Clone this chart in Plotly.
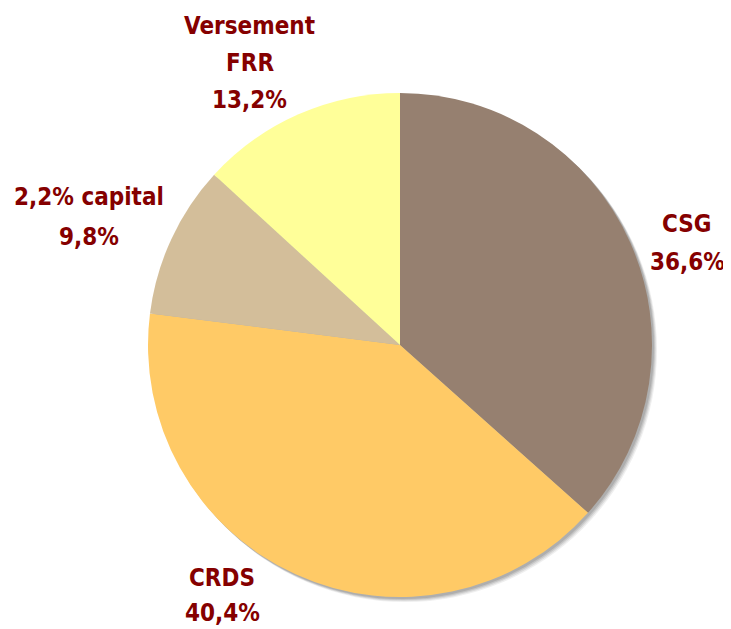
import plotly.graph_objects as go

labels = ["CSG", "CRDS", "2,2% capital", "Versement FRR"]
values = [36.6, 40.4, 9.8, 13.2]
colors = ["#968070", "#FFCA66", "#D3BE9A", "#FFFF99"]
label_lines = [["CSG"], ["CRDS"], ["2,2% capital"], ["Versement", "FRR"]]
pct_text = [f"{v:.1f}%".replace(".", ",") for v in values]

OFF = 8  # page body margin
W, H = 731 - OFF, 629 - OFF
cx, cy, r = 400 - OFF, 345 - OFF, 252


def dom(x0, y0, rad):
    return dict(x=[(x0 - rad) / W, (x0 + rad) / W], y=[(H - y0 - rad) / H, (H - y0 + rad) / H])


fig = go.Figure()
# soft drop shadow (decorative)
for d, op in [(5, 0.10), (4, 0.14), (3, 0.18), (2, 0.22)]:
    fig.add_trace(go.Pie(
        values=[1], marker=dict(colors=["#606060"], line=dict(width=0)),
        textinfo="none", hoverinfo="skip", showlegend=False, sort=False,
        opacity=op, domain=dom(cx + d, cy + d, r),
    ))

fig.add_trace(go.Pie(
    labels=labels, values=values, sort=False, direction="clockwise", rotation=0,
    marker=dict(colors=colors, line=dict(width=0)),
    textinfo="none", hoverinfo="label+percent", showlegend=False,
    domain=dom(cx, cy, r),
))

anchors = [(687, 224), (222, 578), (89, 197), (250, 26)]
spacing = [38, 35, 40, 37]
for lines, pct, (x, y), sp in zip(label_lines, pct_text, anchors, spacing):
    all_lines = lines + [pct]
    for i, t in enumerate(all_lines):
        fig.add_annotation(
            x=(x - OFF) / W, y=1 - (y - OFF + i * sp) / H, xref="paper", yref="paper",
            text=f"<b>{t}</b>", showarrow=False, xanchor="center", yanchor="middle",
            font=dict(family="DejaVu Sans Condensed, Liberation Sans Narrow, sans-serif", size=24, color="#850000"),
        )

fig.update_layout(
    width=W, height=H, margin=dict(l=0, r=0, t=0, b=0),
    paper_bgcolor="white", plot_bgcolor="white",
)
fig.write_html("out.html")
